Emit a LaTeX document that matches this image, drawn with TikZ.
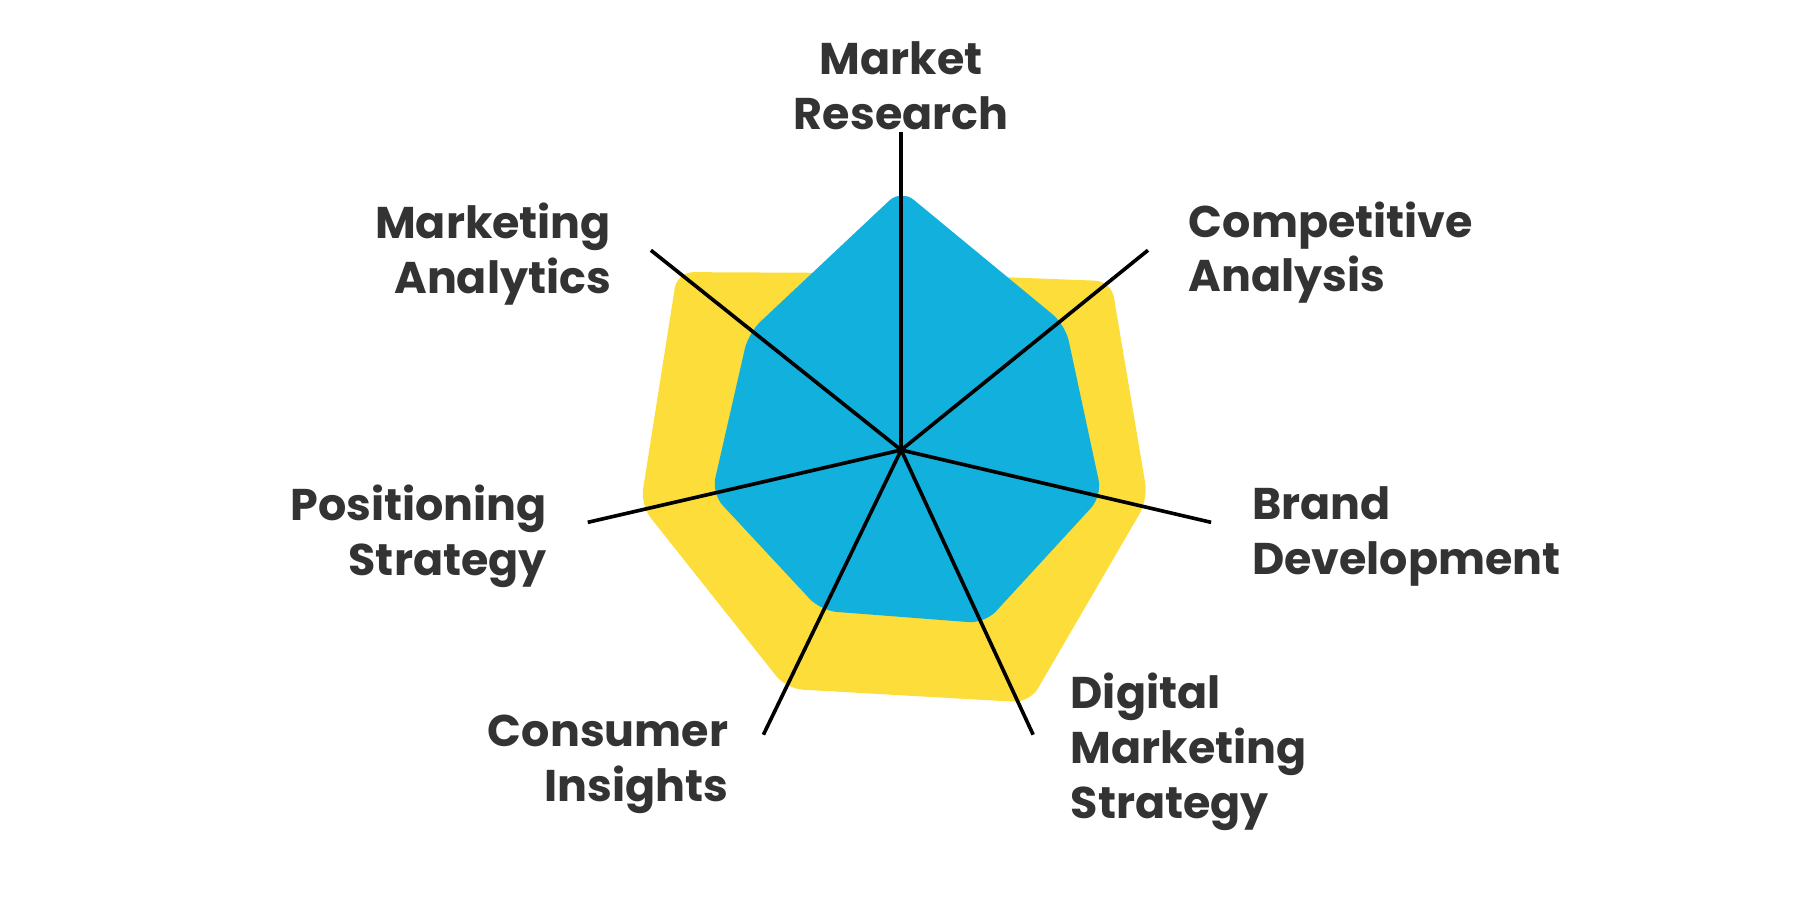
\documentclass[tikz,border=0pt]{standalone}
\usepackage{fontspec}
\setmainfont{Poppins}
\begin{document}
\begin{tikzpicture}[x=0.01cm,y=-0.01cm,
 lab/.style={font=\fontsize{11}{13.6}\selectfont\bfseries, text=txt, inner sep=0pt},
 spoke/.style={line width=0.9pt, black}]
\definecolor{txt}{HTML}{333333}
\definecolor{yel}{HTML}{FDDD3A}
\definecolor{blu}{HTML}{12B0DC}
\useasboundingbox (0,0) rectangle (1568,784);
\coordinate (c) at (785,392);
\fill[yel, rounded corners=4pt] (785,238) -- (968,245) -- (1000,435) -- (897,612) -- (685,600) -- (558,440) -- (590,237) -- cycle;
\fill[blu, rounded corners=4pt] (785,165) -- (928,283) -- (960,432) -- (858,543) -- (715,532) -- (620,430) -- (652,290) -- cycle;
\coordinate (e1) at (785,115);
\coordinate (e2) at (1000,218);
\coordinate (e3) at (1055,455);
\coordinate (e4) at (900,640);
\coordinate (e5) at (665,640);
\coordinate (e6) at (512,455);
\coordinate (e7) at (567,218);
\foreach \i in {1,...,7} \draw[spoke] (c) -- (e\i);
\node[lab, align=center] (l1) at (785,75) {Market\\Research};
\node[lab, align=left, anchor=west] (l2) at (1035,220) {Competitive\\Analysis};
\node[lab, align=left, anchor=west] (l3) at (1090,467) {Brand\\Development};
\node[lab, align=left, anchor=west] (l4) at (932,655) {Digital\\Marketing\\Strategy};
\node[lab, align=right, anchor=east] (l5) at (635,666) {Consumer\\Insights};
\node[lab, align=right, anchor=east] (l6) at (477,467) {Positioning\\Strategy};
\node[lab, align=right, anchor=east] (l7) at (533,221) {Marketing\\Analytics};
\end{tikzpicture}
\end{document}
